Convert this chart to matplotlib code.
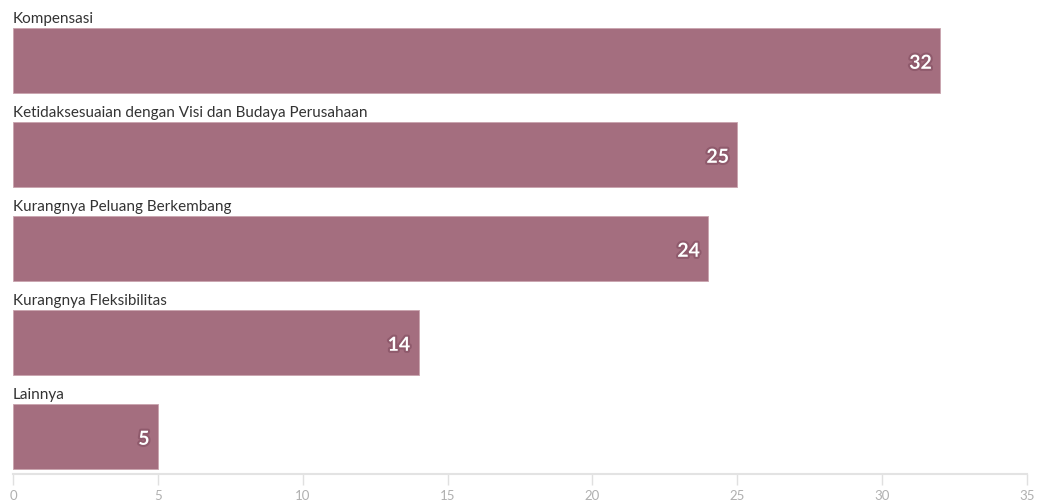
import matplotlib.pyplot as plt
import matplotlib.patheffects as pe

categories = ["Kompensasi",
              "Ketidaksesuaian dengan Visi dan Budaya Perusahaan",
              "Kurangnya Peluang Berkembang",
              "Kurangnya Fleksibilitas",
              "Lainnya"]
values = [32, 25, 24, 14, 5]
xticks = [0, 5, 10, 15, 20, 25, 30, 35]

bar_color = '#a46e7f'
bar_h = 65 / 94

fig = plt.figure(figsize=(10.39, 5.02), dpi=100)
ax = fig.add_axes([13 / 1039, 27 / 502, 1014 / 1039, 474 / 502])

ypos = list(range(len(categories)))
ax.barh(ypos, values, height=bar_h, color=bar_color,
        edgecolor='#c9a3ae', linewidth=0.6)

for y, cat, v in zip(ypos, categories, values):
    ax.text(0, y - bar_h / 2 - 0.03, cat, ha='left', va='bottom',
            fontsize=11, family='Lato', color='#333333')
    ax.annotate(str(v), (v, y), xytext=(-6, -2), textcoords='offset points',
                ha='right', va='center', fontsize=14, fontweight='bold',
                family='Lato', color='white',
                path_effects=[pe.withStroke(linewidth=3, foreground='#8f5a6c')])

ax.set_xlim(0, 35)
ax.set_ylim(4.399, -0.644)
ax.set_xticks(xticks)
ax.set_xticklabels([str(t) for t in xticks], family='Lato', fontsize=9.5,
                   color='#b0b0b0')
ax.set_yticks([])
ax.tick_params(axis='x', length=8, width=1, color='#e0e0e0', pad=3)
for s in ['top', 'right', 'left']:
    ax.spines[s].set_visible(False)
ax.spines['bottom'].set_color('#e3e3e3')
ax.spines['bottom'].set_linewidth(1.5)

fig.savefig('out.png', dpi=100)
